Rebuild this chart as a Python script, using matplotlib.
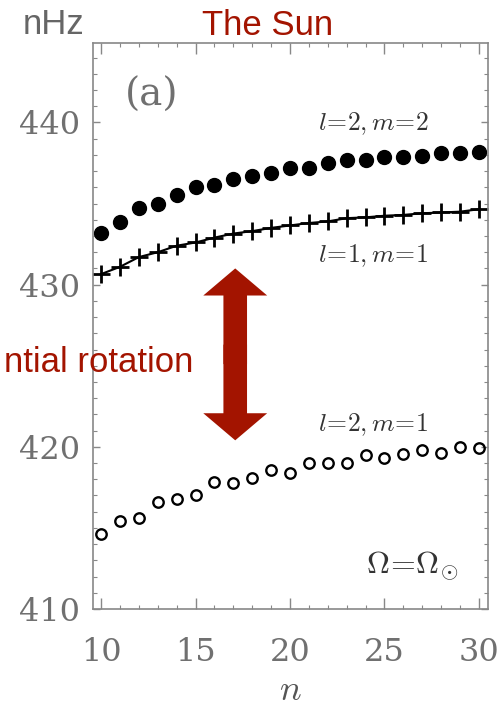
import numpy as np
import matplotlib
matplotlib.use("Agg")
import matplotlib.pyplot as plt
from matplotlib.patches import FancyArrowPatch

plt.rcParams['mathtext.fontset'] = 'cm'

# radial order n and rotational splitting frequencies (nHz)
n = np.arange(10, 31)
l2m2 = [433.2, 433.85, 434.7, 435.0, 435.5, 436.0, 436.15, 436.5, 436.7, 436.9, 437.2,
        437.2, 437.5, 437.7, 437.7, 437.85, 437.9, 437.95, 438.1, 438.1, 438.2]
l1m1 = [430.65, 431.1, 431.7, 432.0, 432.4, 432.6, 432.9, 433.15, 433.3, 433.5, 433.65,
        433.8, 433.9, 434.1, 434.15, 434.25, 434.3, 434.4, 434.45, 434.5, 434.65]
l2m1 = [414.6, 415.4, 415.6, 416.6, 416.8, 417.0, 417.8, 417.75, 418.1, 418.6, 418.4,
        419.0, 419.0, 419.0, 419.5, 419.3, 419.55, 419.8, 419.6, 420.0, 419.95]

xticks = [10, 15, 20, 25, 30]
yticks = [410, 420, 430, 440]

red = '#a31400'
gray = '#707070'

fig = plt.figure(figsize=(5.01, 7.10), dpi=100)
ax = fig.add_axes([0.1856, 0.1423, 0.7884, 0.7971])

ax.plot(n, l2m2, 'o', color='k', ms=10, mec='k')
ax.plot(n, l1m1, '-', color='k', lw=1.5)
ax.plot(n, l1m1, '+', color='k', ms=12.5, mew=2.0)
ax.plot(n, l2m1, 'o', mfc='none', mec='k', ms=7.5, mew=1.7)

ax.set_xlim(9.57, 30.48)
ax.set_ylim(410, 444.9)
ax.set_xticks(xticks)
ax.set_yticks(yticks)
ax.set_xticks(np.arange(10, 31, 1), minor=True)
ax.set_yticks(np.arange(410, 445, 1), minor=True)

for s in ax.spines.values():
    s.set_color('#888888')
    s.set_linewidth(1.2)
ax.tick_params(which='both', direction='in', top=True, right=True, colors='#888888')
ax.tick_params(axis='x', which='major', length=8, width=1.0, pad=20, labelcolor=gray)
ax.tick_params(axis='x', which='minor', length=3, width=0.8)
ax.tick_params(axis='y', which='major', length=5, width=1.0, pad=9, labelcolor=gray)
ax.tick_params(axis='y', which='minor', length=3, width=0.8)
for lab in ax.get_xticklabels() + ax.get_yticklabels():
    lab.set_family('DejaVu Serif')
    lab.set_fontsize(23)

ax.set_xlabel(r'$n$', fontsize=26, color='#555555', labelpad=4)

# curve labels
ax.text(12.7, 441.7, '(a)', fontsize=28, color=gray, family='DejaVu Serif',
        ha='center', va='center')
ax.text(24.4, 439.9, r'$l\!=\!2,m\!=\!2$', fontsize=18.5, color='#333333', ha='center', va='center')
ax.text(24.4, 431.8, r'$l\!=\!1,m\!=\!1$', fontsize=18.5, color='#333333', ha='center', va='center')
ax.text(24.4, 421.35, r'$l\!=\!2,m\!=\!1$', fontsize=18.5, color='#333333', ha='center', va='center')
ax.text(26.45, 412.7, r'$\Omega\!=\!\Omega_{\odot}$', fontsize=23, color='#333333',
        ha='center', va='center')

# double-headed arrow between the prograde and m=1 branches
xa, ytop, ybot = 17.1, 431.0, 420.4
ymid = (ytop + ybot) / 2
for ystart, yend in ((ymid - 0.6, ytop), (ymid + 0.6, ybot)):
    ax.add_patch(FancyArrowPatch((xa, ystart), (xa, yend),
                                 arrowstyle='simple,head_length=19.5,head_width=46,tail_width=17',
                                 mutation_scale=1, shrinkA=0, shrinkB=0,
                                 color=red, lw=0, zorder=5))

fig.text(23 / 501, 1 - 34 / 710, 'nHz', fontsize=25, color='#666666', family='Liberation Sans',
         ha='left', va='baseline')
fig.text(268 / 501, 1 - 35 / 710, 'The Sun', fontsize=25, color=red, family='Liberation Sans',
         ha='center', va='baseline')
fig.text(193 / 501, 1 - 372 / 710, 'ntial rotation', fontsize=25, color=red,
         family='Liberation Sans', ha='right', va='baseline')

fig.savefig('out.png', dpi=100)
